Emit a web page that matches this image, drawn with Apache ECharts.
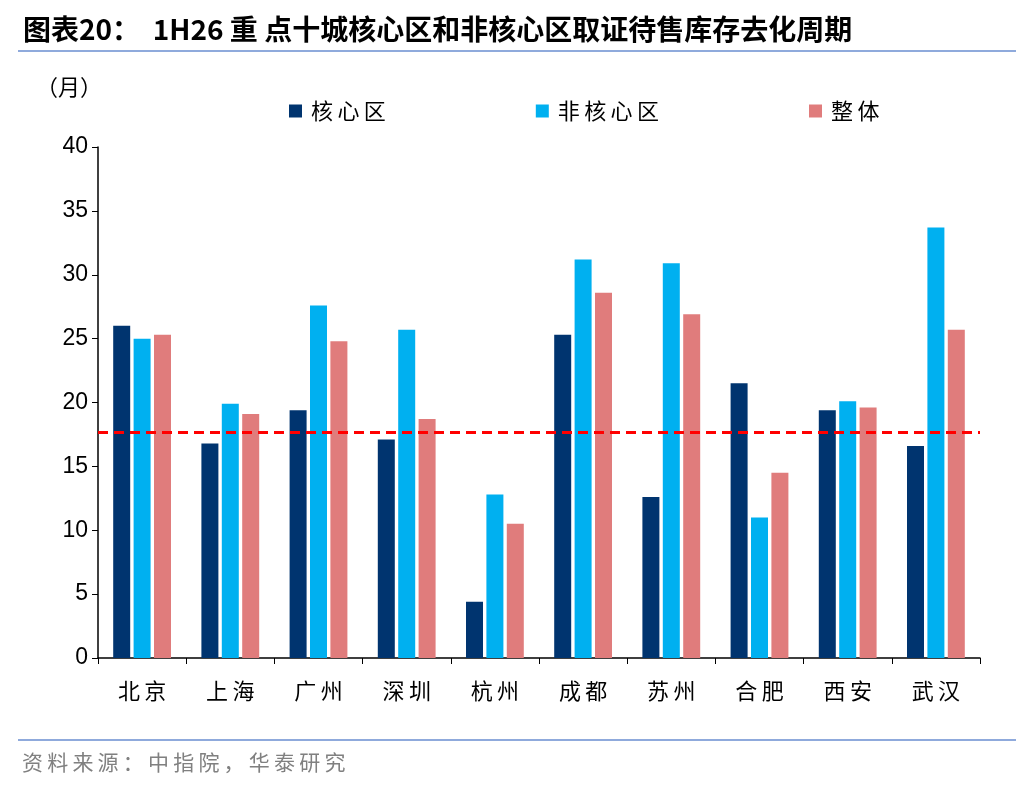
<!DOCTYPE html>
<html><head><meta charset="utf-8">
<script src="https://cdn.jsdelivr.net/npm/echarts@6/dist/echarts.min.js"></script>
<style>body{margin:0;background:#fff}#chart{width:1036px;height:792px}</style>
</head><body><div id="chart"></div>
<script>
var cities = ['北京', '上海', '广州', '深圳', '杭州', '成都', '苏州', '合肥', '西安', '武汉'];
var core = [26.0, 16.8, 19.4, 17.1, 4.4, 25.3, 12.6, 21.5, 19.4, 16.6];
var nonCore = [25.0, 19.9, 27.6, 25.7, 12.8, 31.2, 30.9, 11.0, 20.1, 33.7];
var total = [25.3, 19.1, 24.8, 18.7, 10.5, 28.6, 26.9, 14.5, 19.6, 25.7];
var avgLine = 17.7;

var chartDom = document.getElementById('chart');
var myChart = echarts.init(chartDom);
var font = '"Noto Sans CJK SC", sans-serif';
// spread CJK characters like the original
function spaced(s) { return s.split('').join('\u2009'); }

var option = {
  animation: false,
  textStyle: { fontFamily: font },
  title: {
    text: '图表20：  1H26 重 点十城核心区和非核心区取证待售库存去化周期',
    left: 18, top: 10,
    textStyle: { fontSize: 28, fontWeight: 'bold', color: '#000', fontFamily: font }
  },
  graphic: [
    { type: 'line', shape: { x1: 18, y1: 51, x2: 1016, y2: 51 }, style: { stroke: '#8FAADC', lineWidth: 2 } },
    { type: 'line', shape: { x1: 18, y1: 740, x2: 1016, y2: 740 }, style: { stroke: '#8FAADC', lineWidth: 2 } },
    { type: 'text', left: 22, top: 752, style: { text: spaced('资料来源：中指院，华泰研究'), fontSize: 21, fill: '#808080', fontFamily: font } },
    { type: 'text', left: 36, top: 76, style: { text: '（月）', fontSize: 22, fill: '#000', fontFamily: font } }
  ],
  legend: {
    top: 95, left: 284, itemGap: 150, itemWidth: 13, itemHeight: 13,
    icon: 'rect',
    formatter: function (n) { return spaced(n); },
    textStyle: { fontSize: 22, color: '#000', padding: [0, 0, 0, 4] },
    data: ['核心区', '非核心区', '整体']
  },
  grid: { left: 98, right: 56, top: 147, bottom: 134 },
  xAxis: {
    type: 'category', data: cities,
    axisLine: { lineStyle: { color: '#000', width: 1.5 } },
    axisTick: { show: true, length: 6, lineStyle: { color: '#000' } },
    axisLabel: { fontSize: 22, color: '#000', margin: 22, formatter: function (v) { return spaced(v); } }
  },
  yAxis: {
    type: 'value', min: 0, max: 40, interval: 5,
    axisLine: { show: true, lineStyle: { color: '#000', width: 1.5 } },
    axisTick: { show: true, length: 6, lineStyle: { color: '#000' } },
    splitLine: { show: false },
    axisLabel: { fontSize: 23, color: '#000', margin: 10, fontFamily: 'Arial, "Liberation Sans", sans-serif' }
  },
  series: [
    { name: '核心区', type: 'bar', data: core, barWidth: 17, barGap: '20%', itemStyle: { color: '#00346F' },
      markLine: { silent: true, symbol: 'none', label: { show: false },
        lineStyle: { color: '#FF0000', type: [10, 6], width: 3 },
        data: [{ yAxis: avgLine }] } },
    { name: '非核心区', type: 'bar', data: nonCore, barWidth: 17, barGap: '20%', itemStyle: { color: '#00B0F0' } },
    { name: '整体', type: 'bar', data: total, barWidth: 17, barGap: '20%', itemStyle: { color: '#E07C7C' } }
  ]
};
option && myChart.setOption(option);
</script></body></html>
